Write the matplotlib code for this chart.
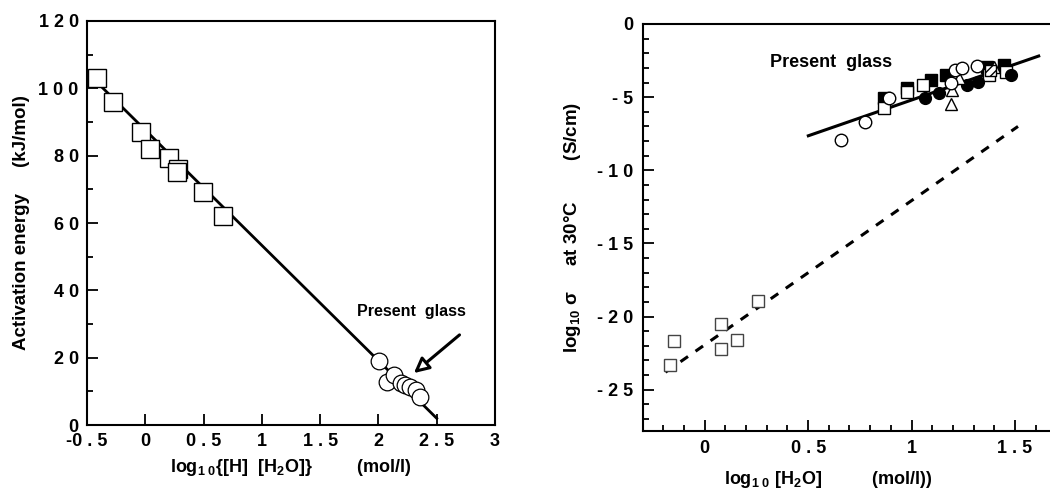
import numpy as np
import matplotlib
matplotlib.use('Agg')
import matplotlib.pyplot as plt
from matplotlib.ticker import MultipleLocator, FixedLocator

plt.rcParams['font.family'] = ['Liberation Sans', 'DejaVu Sans']
plt.rcParams['font.weight'] = 'bold'
plt.rcParams['mathtext.fontset'] = 'custom'
plt.rcParams['mathtext.rm'] = 'Liberation Sans:bold'
plt.rcParams['mathtext.it'] = 'Liberation Sans:bold'
plt.rcParams['mathtext.bf'] = 'Liberation Sans:bold'
plt.rcParams['mathtext.default'] = 'rm'

#%% Data, left panel (activation energy)
sq_x = [-0.417, -0.28, -0.04, 0.044, 0.20, 0.28, 0.27, 0.494, 0.665]
sq_y = [103.1, 96.0, 87.1, 82.0, 79.2, 75.9, 75.2, 69.1, 62.1]
glass_x = [2.004, 2.075, 2.13, 2.19, 2.23, 2.27, 2.32, 2.36]
glass_y = [19.0, 12.9, 14.9, 12.4, 11.9, 11.2, 10.4, 8.4]
fit_left_x = [-0.38, 2.50]
fit_left_y = [100.6, 2.0]
left_yticks = [0, 20, 40, 60, 80, 100, 120]
left_ylabels = ['0', '2 0', '4 0', '6 0', '8 0', '1 0 0', '1 2 0']
left_xticks = [-0.5, 0, 0.5, 1, 1.5, 2, 2.5, 3]
left_xlabels = ['-0 . 5', '0', '0 . 5', '1', '1 . 5', '2', '2 . 5', '3']

#%% Data, right panel (conductivity)
old_sq_x = [-0.15, -0.166, 0.081, 0.078, 0.157, 0.256]
old_sq_y = [-21.65, -23.3, -20.5, -22.2, -21.6, -18.9]
dash_x = [-0.19, 1.515]
dash_y = [-23.8, -7.0]
solid_x = [0.501, 1.615]
solid_y = [-7.64, -2.19]

oc_x = [0.66, 0.776, 0.889, 1.19, 1.21, 1.245, 1.317]
oc_y = [-7.95, -6.70, -5.08, -4.03, -3.17, -3.03, -2.85]
fc_x = [1.064, 1.134, 1.266, 1.32, 1.48]
fc_y = [-5.08, -4.74, -4.17, -3.94, -3.49]
fs_x = [0.866, 0.979, 1.093, 1.168, 1.367, 1.448]
fs_y = [-5.08, -4.40, -3.83, -3.49, -2.92, -2.80]
os_x = [0.866, 0.98, 1.054, 1.376, 1.455]
os_y = [-5.76, -4.63, -4.17, -3.49, -3.26]
ot_x = [1.19, 1.198, 1.23, 1.40]
ot_y = [-5.47, -4.51, -3.71, -2.92]
hs_x = [1.38]
hs_y = [-3.2]
right_yticks = [0, -5, -10, -15, -20, -25]
right_ylabels = ['0', '- 5', '- 1 0', '- 1 5', '- 2 0', '- 2 5']
right_xticks = [0, 0.5, 1, 1.5]
right_xlabels = ['0', '0 . 5', '1', '1 . 5']

fig = plt.figure(figsize=(10.5, 5.03), dpi=100)

#%% Left panel
ax1 = fig.add_axes([0.0829, 0.155, 0.3885, 0.8033])
ax1.plot(fit_left_x, fit_left_y, color='black', lw=2.0, zorder=2)
ax1.plot(sq_x, sq_y, 's', ms=13.5, mfc='white', mec='black', mew=1.0, zorder=3)
ax1.plot(glass_x, glass_y, 'o', ms=12, mfc='white', mec='black', mew=0.9, zorder=3)
ax1.annotate('', xy=(2.286, 14.9), xytext=(2.714, 27.3),
             arrowprops=dict(arrowstyle='-|>,head_length=0.9,head_width=0.45',
                             fc='white', ec='black', lw=2.2))
ax1.text(2.28, 33.6, 'Present  glass', fontsize=11.5, fontweight='bold',
         ha='center', va='center')

ax1.set_xlim(-0.5, 3)
ax1.set_ylim(0, 120)
ax1.xaxis.set_major_locator(FixedLocator(left_xticks))
ax1.set_xticklabels(left_xlabels)
ax1.yaxis.set_major_locator(FixedLocator(left_yticks))
ax1.yaxis.set_minor_locator(MultipleLocator(10))
ax1.set_yticklabels(left_ylabels)
ax1.tick_params(which='both', direction='in', labelsize=13, width=1.3)
ax1.tick_params(which='major', length=8, pad=6)
ax1.tick_params(which='minor', length=4)
ax1.set_ylabel('Activation energy     (kJ/mol)', fontsize=13.5, fontweight='bold', labelpad=6)
ax1.set_xlabel('log$_{1\\ 0}${[H]  [H$_2$O]}         (mol/l)', fontsize=13,
               fontweight='bold', labelpad=5)
for s in ax1.spines.values():
    s.set_linewidth(1.5)

#%% Right panel
ax2 = fig.add_axes([0.6121, 0.1437, 0.398, 0.8086])
ax2.plot(dash_x, dash_y, '--', color='black', lw=2.2, dashes=(3, 3), zorder=2)
ax2.plot(solid_x, solid_y, color='black', lw=2.2, zorder=2)
ax2.plot(old_sq_x, old_sq_y, 's', ms=8, mfc='white', mec='#444444', mew=1.0, zorder=3)
ax2.plot(fs_x, fs_y, 's', ms=8.5, mfc='black', mec='black', zorder=3)
ax2.plot(os_x, os_y, 's', ms=8.5, mfc='white', mec='black', mew=1.0, zorder=3)
ax2.plot(fc_x, fc_y, 'o', ms=8.5, mfc='black', mec='black', zorder=3)
ax2.plot(ot_x, ot_y, '^', ms=8.5, mfc='white', mec='black', mew=1.0, zorder=4)
ax2.scatter(hs_x, hs_y, s=64, marker='s', facecolor='white', edgecolor='black',
            hatch='////', zorder=4)
ax2.plot(oc_x, oc_y, 'o', ms=9, mfc='white', mec='black', mew=1.0, zorder=5)
ax2.text(0.613, -2.65, 'Present  glass', fontsize=13, fontweight='bold',
         ha='center', va='center')

ax2.set_xlim(-0.30, 1.721)
ax2.set_ylim(-27.8, 0)
ax2.xaxis.set_major_locator(FixedLocator(right_xticks))
ax2.xaxis.set_minor_locator(MultipleLocator(0.1))
ax2.set_xticklabels(right_xlabels)
ax2.yaxis.set_major_locator(FixedLocator(right_yticks))
ax2.yaxis.set_minor_locator(MultipleLocator(1))
ax2.set_yticklabels(right_ylabels)
ax2.tick_params(which='both', direction='in', labelsize=13, width=1.3)
ax2.tick_params(which='major', length=8, pad=7)
ax2.tick_params(which='minor', length=4)
ax2.set_ylabel('log$_{10}$ σ     at 30°C        (S/cm)', fontsize=13.5,
               fontweight='bold', labelpad=10)
ax2.set_xlabel('log$_{1\\ 0}$ [H$_2$O]          (mol/l))', fontsize=13,
               fontweight='bold')
ax2.xaxis.set_label_coords(0.443, -0.095)
for s in ax2.spines.values():
    s.set_linewidth(1.5)

fig.savefig('out.png', dpi=100)
